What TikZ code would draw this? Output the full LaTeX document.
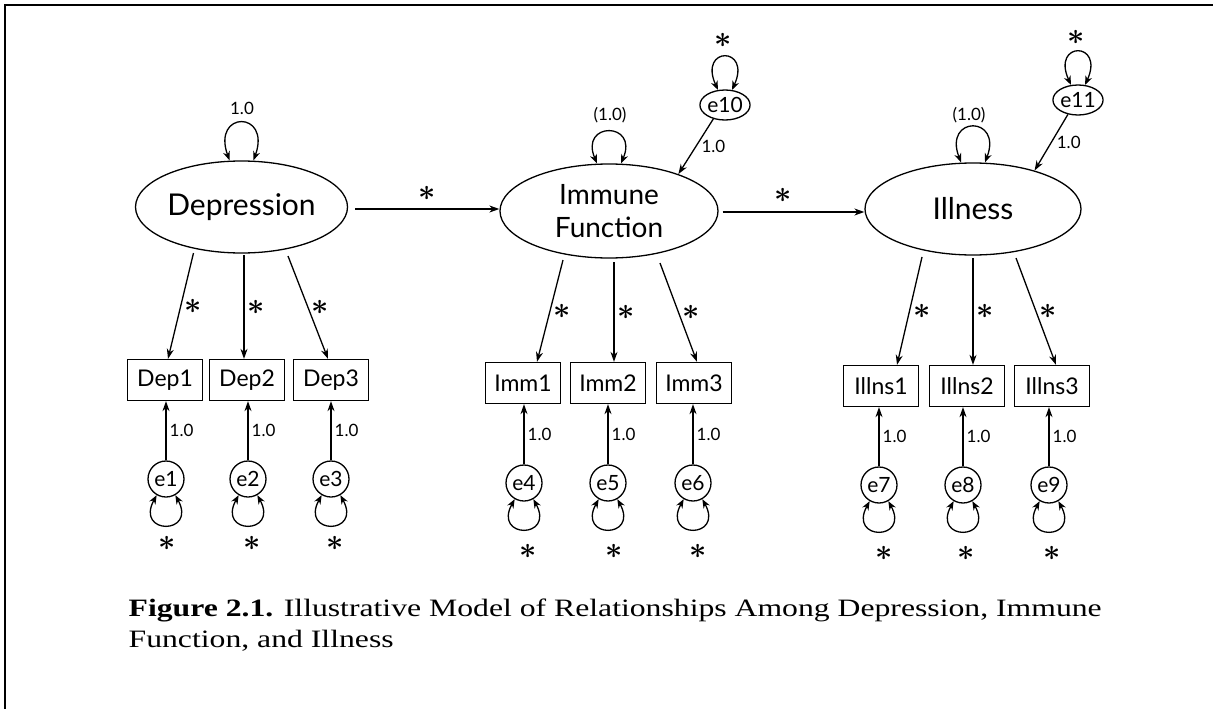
\documentclass[tikz,border=0pt]{standalone}
\usepackage{fontspec}
\setmainfont{Liberation Serif}
\newfontfamily\diag{Lato}
\usetikzlibrary{arrows.meta,calc,shapes.geometric}
\newcommand{\stq}{\scalebox{3}{\boldmath$\ast$}}
\begin{document}
\begin{tikzpicture}[x=1pt,y=-1pt,line width=1.3pt,
  lat/.style={draw,ellipse,inner sep=0pt,align=center,font=\diag\fontsize{30}{34}\selectfont},
  obs/.style={draw,rectangle,minimum width=75pt,minimum height=41pt,inner sep=0pt,font=\diag\fontsize{23}{24}\selectfont},
  err/.style={draw,circle,minimum size=36pt,inner sep=0pt,font=\diag\fontsize{21}{22}\selectfont},
  errov/.style={draw,ellipse,minimum width=44pt,minimum height=30pt,inner sep=0pt,font=\diag\fontsize{21}{22}\selectfont},
  arr/.style={-{Stealth[length=10pt,width=7pt]}},
  dbl/.style={{Stealth[length=9pt,width=7pt]}-{Stealth[length=9pt,width=7pt]}},
  star/.style={inner sep=0pt},
  one/.style={inner sep=1pt,font=\diag\fontsize{17}{18}\selectfont}]
\useasboundingbox (0,0) rectangle (1213,709);
\fill[white] (0,0) rectangle (1213,709);
\draw[line width=2pt] (5,709) -- (5,5) -- (1213,5);

% latent variables
\node[lat,minimum width=212pt,minimum height=92pt] (dep) at (241.5,207) {Depression};
\node[lat,minimum width=218pt,minimum height=94pt,font=\diag\fontsize{28}{33}\selectfont] (imm) at (609,211) {Immune\\Function};
\node[lat,minimum width=216pt,minimum height=92pt] (ill) at (973,209) {Illness};

% disturbances
\node[errov] (e10) at (725,105) {e10};
\node[errov] (e11) at (1078,100) {e11};

% indicators
\node[obs] (d1) at (165,380) {Dep1};
\node[obs] (d2) at (247,380) {Dep2};
\node[obs] (d3) at (331,380) {Dep3};
\node[obs] (i1) at (523,383) {Imm1};
\node[obs] (i2) at (608,383) {Imm2};
\node[obs] (i3) at (694,383) {Imm3};
\node[obs] (l1) at (881,386) {Illns1};
\node[obs] (l2) at (967,386) {Illns2};
\node[obs] (l3) at (1052,386) {Illns3};

% errors
\node[err] (e1) at (166,479) {e1};
\node[err] (e2) at (248,479) {e2};
\node[err] (e3) at (331,479) {e3};
\node[err] (e4) at (524,483) {e4};
\node[err] (e5) at (608,483) {e5};
\node[err] (e6) at (693,483) {e6};
\node[err] (e7) at (879,485) {e7};
\node[err] (e8) at (963,485) {e8};
\node[err] (e9) at (1049,485) {e9};

% variance loops on latent variables
\draw[dbl] ($(dep.north)+(-12,0)$) .. controls +(-18,-50) and +(18,-50) .. ($(dep.north)+(12,0)$);
\node[one] (vdep) at (242,108) {1.0};
\draw[dbl] ($(imm.north)+(-12,0)$) .. controls +(-18,-42) and +(18,-42) .. ($(imm.north)+(12,0)$);
\node[one] (vimm) at (610,115) {(1.0)};
\draw[dbl] ($(ill.north)+(-12,0)$) .. controls +(-18,-47) and +(18,-47) .. ($(ill.north)+(12,0)$);
\node[one] (vill) at (969,115) {(1.0)};

\draw[dbl] (e10.115) .. controls +(-20,-44) and +(20,-44) .. (e10.65);
\node[star] (s10) at (723,40) {\stq};
\draw[dbl] (e11.115) .. controls +(-20,-44) and +(20,-44) .. (e11.65);
\node[star] (s11) at (1076,37) {\stq};

% structural paths
\draw[arr] ($(dep.east)+(7,2)$) -- node[star,above=8pt]{\stq} (imm.west |- 0,209);
\draw[arr] ($(imm.east)+(4,1)$) -- node[star,above=9pt,xshift=-10pt]{\stq} (ill.west |- 0,212);
\draw[arr] (e10.-130) -- node[one,right=4pt]{1.0} (imm.28);
\draw[arr] (e11.-125) -- node[one,right=4pt]{1.0} (ill.32);

% loadings
\draw[arr] ($(dep)+(-48,46)$) -- node[star,right=3pt]{\stq} ($(d1.north)+(3,0)$);
\draw[arr] ($(dep)+(2.5,48)$) -- node[star,right=3pt]{\stq} ($(d2.north)+(-3,0)$);
\draw[arr] ($(dep)+(46.5,49)$) -- node[star,right=3pt]{\stq} ($(d3.north)+(-3,0)$);
\draw[arr] ($(imm)+(-46,49)$) -- node[star,right=3pt]{\stq} ($(i1.north)+(14,0)$);
\draw[arr] ($(imm)+(5,51)$) -- node[star,right=3pt]{\stq} ($(i2.north)+(6,0)$);
\draw[arr] ($(imm)+(51,52)$) -- node[star,right=3pt]{\stq} ($(i3.north)+(3,0)$);
\draw[arr] ($(ill)+(-51,48)$) -- node[star,right=3pt]{\stq} ($(l1.north)+(16,0)$);
\draw[arr] ($(ill)+(0,49)$) -- node[star,right=3pt]{\stq} ($(l2.north)+(6,0)$);
\draw[arr] ($(ill)+(43,49)$) -- node[star,right=3pt]{\stq} ($(l3.north)+(4,0)$);

% error paths
\foreach \e/\b in {e1/d1,e2/d2,e3/d3,e4/i1,e5/i2,e6/i3,e7/l1,e8/l2,e9/l3}{
  \draw[arr] (\e) -- node[one,right=2pt]{1.0} (\e |- \b.south);
  \draw[dbl] (\e.-120) .. controls +(-22,40) and +(22,40) .. (\e.-60);
}
\node[star] (s1) at (167,543) {\stq};
\node[star] (s2) at (252,543) {\stq};
\node[star] (s3) at (335,543) {\stq};
\node[star] (s4) at (528,551) {\stq};
\node[star] (s5) at (614,551) {\stq};
\node[star] (s6) at (698,551) {\stq};
\node[star] (s7) at (884,553) {\stq};
\node[star] (s8) at (966,553) {\stq};
\node[star] (s9) at (1052,553) {\stq};

% caption
\node[anchor=base west,inner sep=0pt] (cap) at (128,616) {\resizebox{973pt}{\height}{\fontsize{25}{31}\selectfont\begin{tabular}[t]{@{}l@{}}\textbf{Figure 2.1.} Illustrative Model of Relationships Among Depression, Immune\\Function, and Illness\end{tabular}}};
\end{tikzpicture}
\end{document}
